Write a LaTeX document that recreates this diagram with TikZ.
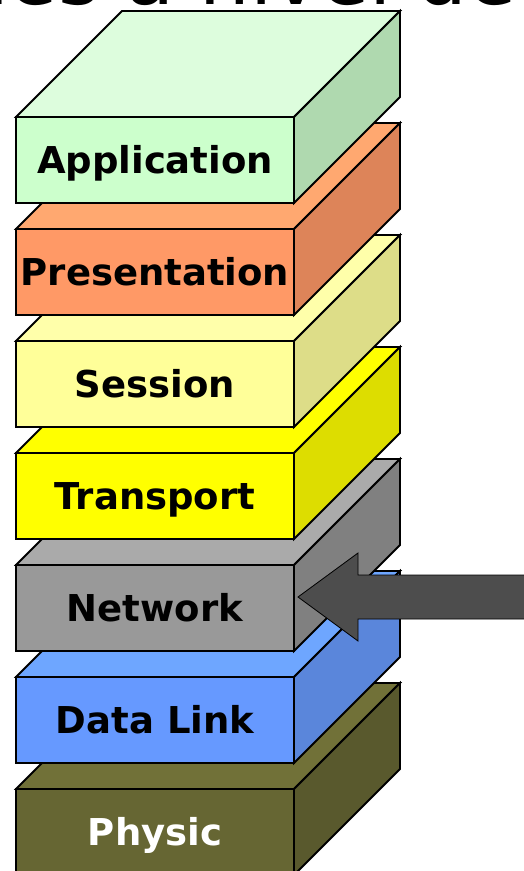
\documentclass[tikz,border=0pt]{standalone}
\usepackage{fontspec}
\setmainfont{DejaVu Sans}
\definecolor{appF}{HTML}{CCFFCC}\definecolor{appT}{HTML}{DDFDDD}\definecolor{appS}{HTML}{AFD9AF}
\definecolor{preF}{HTML}{FF9966}\definecolor{preT}{HTML}{FFA870}\definecolor{preS}{HTML}{DD8459}
\definecolor{sesF}{HTML}{FFFF99}\definecolor{sesT}{HTML}{FFFFAA}\definecolor{sesS}{HTML}{DDDD88}
\definecolor{traF}{HTML}{FFFF00}\definecolor{traT}{HTML}{FFFF00}\definecolor{traS}{HTML}{DDDD00}
\definecolor{netF}{HTML}{999999}\definecolor{netT}{HTML}{AAAAAA}\definecolor{netS}{HTML}{808080}
\definecolor{dlkF}{HTML}{6699FF}\definecolor{dlkT}{HTML}{6EA6FF}\definecolor{dlkS}{HTML}{5A86DB}
\definecolor{phyF}{HTML}{666633}\definecolor{phyT}{HTML}{717138}\definecolor{phyS}{HTML}{59592D}
\definecolor{arrowgray}{HTML}{4D4D4D}
\tikzset{
  edge/.style={draw=black, line width=1.8pt, line join=miter},
  face/.style={edge, minimum width=278pt, minimum height=86pt, inner sep=0pt, outer sep=0pt,
    text height=27pt, text depth=0pt, font=\fontsize{37}{40}\selectfont\bfseries},
  bigarrow/.style={fill=arrowgray, draw=black, line width=0.8pt, line join=miter}
}
\newcommand\osilayer[7]{%
  \node[face, fill=#3, text=#7] (#1) at (155,#2+43) {#6};
  \filldraw[edge, fill=#4] (#1.north west) -- ++(106,-106) -- ++(278,0) -- (#1.north east) -- cycle;
  \filldraw[edge, fill=#5] (#1.north east) -- ++(106,-106) -- ++(0,86) -- (#1.south east) -- cycle;
}
\begin{document}
\begin{tikzpicture}[x=1pt,y=-1pt]
\useasboundingbox (0,0) rectangle (524,871);
\node[anchor=base west, inner sep=0pt, font=\fontsize{80}{90}\selectfont] (title) at (-42,4) {des a nivel de};
\osilayer{physic}{789}{phyF}{phyT}{phyS}{Physic}{white}
\osilayer{datalink}{677}{dlkF}{dlkT}{dlkS}{Data Link}{black}
\osilayer{network}{565}{netF}{netT}{netS}{Network}{black}
\osilayer{transport}{453}{traF}{traT}{traS}{Transport}{black}
\osilayer{session}{341}{sesF}{sesT}{sesS}{Session}{black}
\osilayer{presentation}{229}{preF}{preT}{preS}{Presentation}{black}
\osilayer{application}{117}{appF}{appT}{appS}{Application}{black}
\coordinate (tip) at ([xshift=4pt,yshift=11pt]network.east);
\filldraw[bigarrow] (tip) -- ++(60,-44) -- ++(0,22) -- ++(180,0) -- ++(0,44) -- ++(-180,0) -- ++(0,22) -- cycle;
\end{tikzpicture}
\end{document}
